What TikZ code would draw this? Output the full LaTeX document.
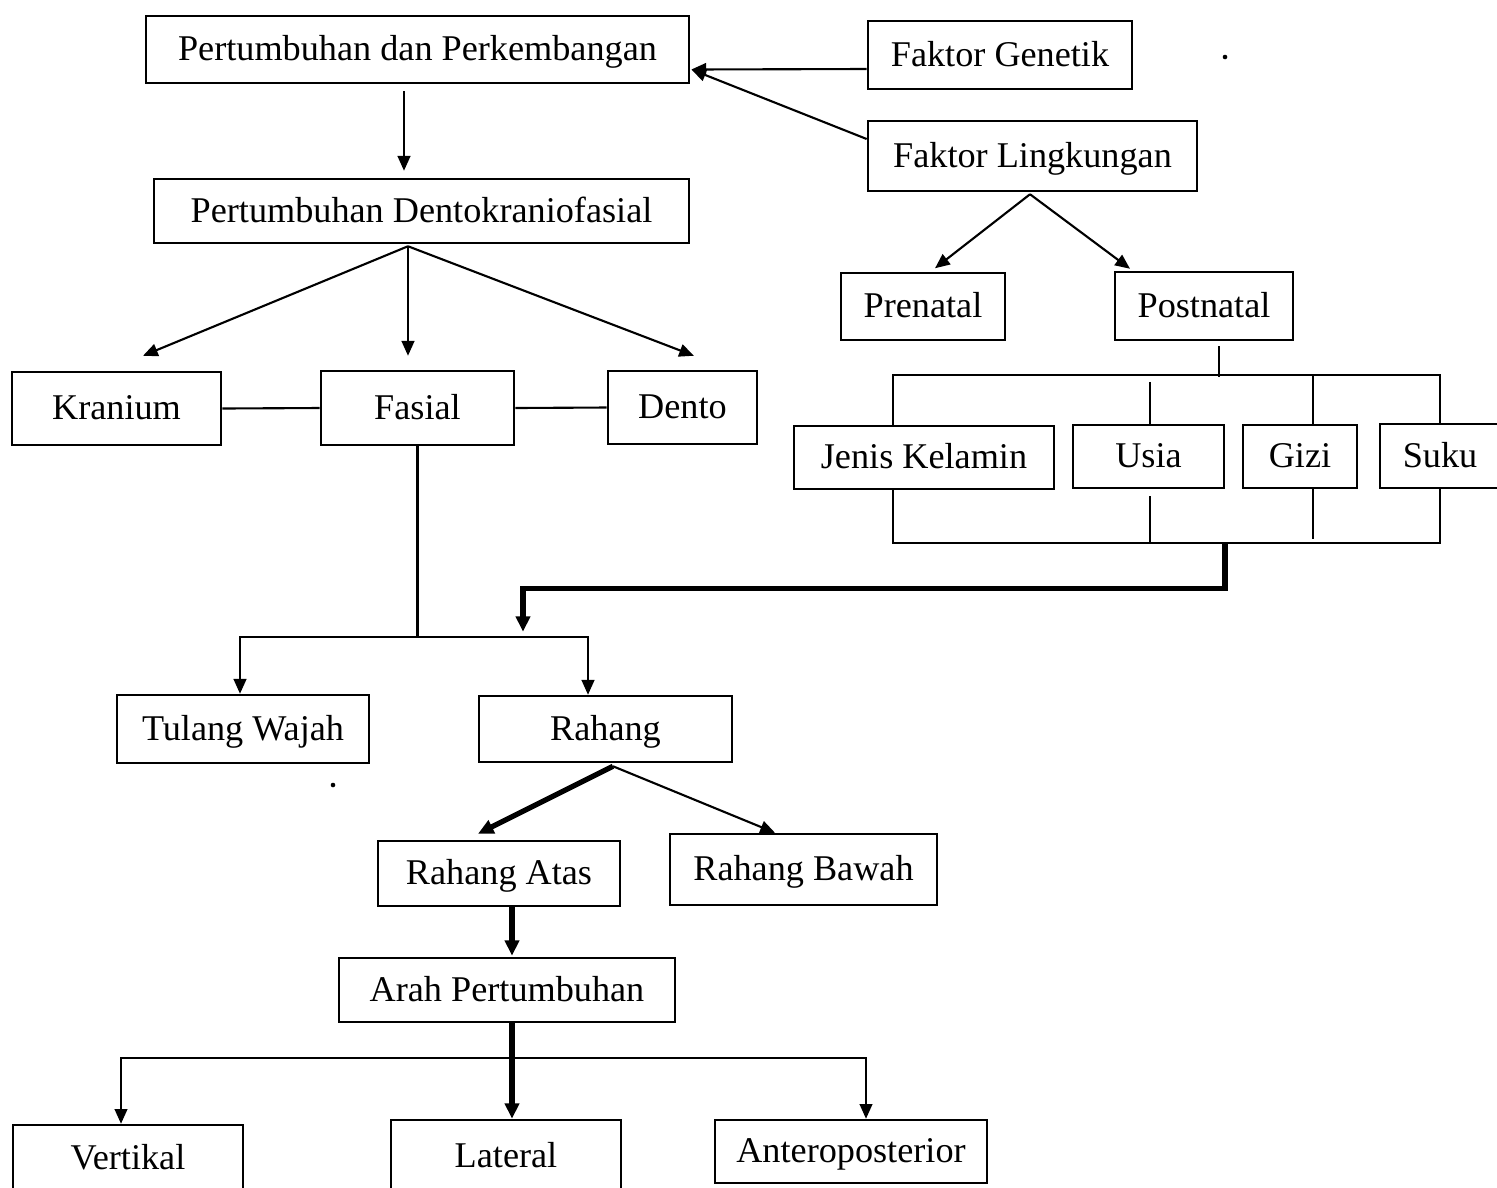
\documentclass[tikz,border=0pt]{standalone}
\usepackage{fontspec}
\setmainfont{Liberation Serif}
\usetikzlibrary{arrows.meta,calc}
\begin{document}
\begin{tikzpicture}[x=0.01cm,y=-0.01cm,
  box/.style={draw,line width=0.7pt,rectangle,inner sep=0pt,text height=6.9pt,text depth=0.6pt,font=\fontsize{10.3}{12}\selectfont},
  ln/.style={line width=0.6pt},
  thk/.style={line width=1.5pt},
  arr/.style={ln,-{Triangle[length=4.2pt,width=3.6pt]}},
  tarr/.style={thk,-{Triangle[length=4.4pt,width=4pt]}}]
\useasboundingbox (0,0) rectangle (1497,1187);
% boxes
\node[box,minimum width=5.43cm,minimum height=0.67cm] (pdp) at (417.5,49.5) {Pertumbuhan dan Perkembangan};
\node[box,minimum width=2.64cm,minimum height=0.68cm] (gen) at (1000,55) {Faktor Genetik};
\node[box,minimum width=3.29cm,minimum height=0.70cm] (ling) at (1032.5,156) {Faktor Lingkungan};
\node[box,minimum width=5.35cm,minimum height=0.64cm] (pd) at (421.5,211) {Pertumbuhan Dentokraniofasial};
\node[box,minimum width=1.64cm,minimum height=0.67cm] (pre) at (923,306.5) {Prenatal};
\node[box,minimum width=1.78cm,minimum height=0.68cm] (post) at (1204,306) {Postnatal};
\node[box,minimum width=2.09cm,minimum height=0.73cm] (kra) at (116.5,408.5) {Kranium};
\node[box,minimum width=1.93cm,minimum height=0.74cm] (fas) at (417.5,408) {Fasial};
\node[box,minimum width=1.49cm,minimum height=0.73cm] (den) at (682.5,407.5) {Dento};
\node[box,minimum width=2.60cm,minimum height=0.63cm] (jk) at (924,457.5) {Jenis Kelamin};
\node[box,minimum width=1.51cm,minimum height=0.63cm] (usia) at (1148.5,456.5) {Usia};
\node[box,minimum width=1.14cm,minimum height=0.63cm] (gizi) at (1300,456.5) {Gizi};
\node[box,minimum width=1.20cm,minimum height=0.64cm] (suku) at (1440,456) {Suku};
\node[box,minimum width=2.52cm,minimum height=0.68cm] (tw) at (243,729) {Tulang Wajah};
\node[box,minimum width=2.53cm,minimum height=0.66cm] (rah) at (605.5,729) {Rahang};
\node[box,minimum width=2.42cm,minimum height=0.65cm] (ra) at (499,873.5) {Rahang Atas};
\node[box,minimum width=2.67cm,minimum height=0.71cm] (rb) at (803.5,869.5) {Rahang Bawah};
\node[box,minimum width=3.36cm,minimum height=0.64cm] (arah) at (507,990) {Arah Pertumbuhan};
\node[box,minimum width=2.30cm,minimum height=0.66cm] (vert) at (128,1158) {Vertikal};
\node[box,minimum width=2.30cm,minimum height=0.72cm] (lat) at (506,1156) {Lateral};
\node[box,minimum width=2.72cm,minimum height=0.63cm] (ant) at (851,1151.5) {Anteroposterior};
% top connectors
\draw[arr] ($(pdp.south)+(-13.5,7)$) -- ($(pd.north)+(-17.5,-7)$);
\coordinate (pin) at ($(pdp.east)+(1,20)$);
\draw[arr] ($(gen.west)+(0,14)$) -- (pin);
\draw[arr] ($(ling.west)+(0,-17)$) -- (pin);
\coordinate (pds) at ($(pd.south)+(-13.5,2)$);
\draw[arr] (pds) -- ($(kra.north)+(26.5,-15)$);
\draw[arr] (pds) -- ($(fas.north)+(-9.5,-14)$);
\draw[arr] (pds) -- ($(den.north)+(11.5,-14)$);
\draw[ln] (kra.east) -- (fas.west);
\draw[ln] (fas.east) -- (den.west);
\coordinate (ls) at ($(ling.south)+(-2.5,2)$);
\draw[arr] (ls) -- ($(pre.north)+(12,-3.5)$);
\draw[arr] (ls) -- ($(post.north)+(-74,-2)$);
% postnatal tree
\coordinate (pt) at ($(post.south)+(15,36)$);
\draw[ln] ($(post.south)+(15,5)$) -- (pt);
\draw[ln] ($(jk.north)+(-31,0)$) -- ($(jk.north)+(-31,-50)$) -- ($(suku.north)+(0,-48)$) -- (suku.north);
\draw[ln] ($(usia.north)+(1.5,-42)$) -- ($(usia.north)+(1.5,0)$);
\draw[ln] ($(gizi.north)+(13,-49)$) -- ($(gizi.north)+(13,0)$);
\draw[ln] ($(jk.south)+(-31,0)$) -- ($(jk.south)+(-31,53)$) -- ($(suku.south)+(0,54)$) -- (suku.south);
\draw[ln] ($(usia.south)+(1.5,7)$) -- ($(usia.south)+(1.5,54)$);
\draw[ln] ($(gizi.south)+(13,0)$) -- ($(gizi.south)+(13,50)$);
\coordinate (pb) at ($(usia.south)+(76.5,54)$);
\draw[tarr] (pb) -- ($(pb)+(0,45)$) -| ($(rah.north)+(-82.5,-63)$);
% fasial tree
\coordinate (fj) at ($(fas.south)+(0,191)$);
\draw[ln] (fas.south) -- (fj);
\draw[arr] (fj) -| ($(tw.north)+(-3,0)$);
\draw[arr] (fj) -| ($(rah.north)+(-17.5,0)$);
% rahang
\coordinate (rs) at ($(rah.south)+(7.5,3)$);
\draw[tarr] (rs) -- ($(ra.north)+(-21,-6)$);
\draw[arr] (rs) -- ($(rb.north)+(-28.5,0)$);
\draw[tarr] ($(ra.south)+(13,0)$) -- ($(arah.north)+(5,-1)$);
\draw[tarr] ($(arah.south)+(5,0)$) -- ($(lat.north)+(6,0)$);
\coordinate (aj) at ($(arah.south)+(0,35)$);
\draw[arr] (aj) -| ($(vert.north)+(-7,0)$);
\draw[arr] (aj) -| ($(ant.north)+(15,0)$);
% specks
\fill (1225,57) circle (2.3);
\fill (333,785) circle (2.3);
\end{tikzpicture}
\end{document}
